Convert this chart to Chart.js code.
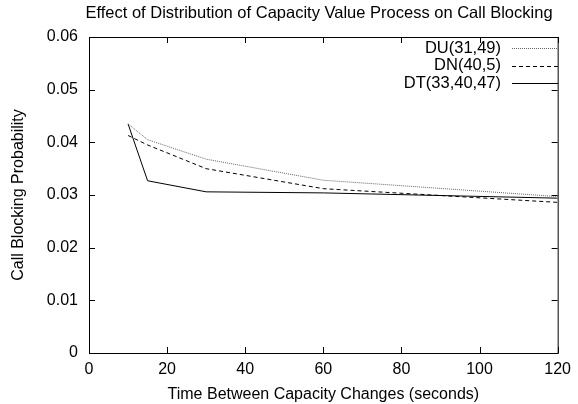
<!DOCTYPE html>
<html>
<head>
<meta charset="utf-8">
<script src="https://cdn.jsdelivr.net/npm/chart.js@4"></script>
<style>
  html, body { margin: 0; padding: 0; background: #fff; }
  #wrap { width: 578px; height: 404px; }
</style>
</head>
<body>
<div id="wrap"><canvas id="chart" width="578" height="404"></canvas></div>
<script>
const times = [10, 15, 30, 60, 120];
const du = [0.0435, 0.0405, 0.0368, 0.0328, 0.0297];
const dn = [0.0413, 0.0395, 0.0350, 0.0312, 0.0286];
const dt = [0.0435, 0.0327, 0.0306, 0.0304, 0.0294];
const xTicks = [0, 20, 40, 60, 80, 100, 120];
const yTicks = [0, 0.01, 0.02, 0.03, 0.04, 0.05, 0.06];

const FONT = 'Liberation Sans, Arial, sans-serif';

// gnuplot-like frame: full box with inward ticks on all four sides
const framePlugin = {
    id: 'frame',
    afterDraw(chart) {
        const { ctx, chartArea: a, scales } = chart;
        ctx.save();
        ctx.strokeStyle = '#000';
        ctx.lineWidth = 1;
        ctx.strokeRect(a.left + 0.5, a.top + 0.5, a.right - a.left, a.bottom - a.top);
        ctx.beginPath();
        const len = 6;
        xTicks.forEach(v => {
            const px = Math.round(scales.x.getPixelForValue(v)) + 0.5;
            ctx.moveTo(px, a.bottom); ctx.lineTo(px, a.bottom - len);
            ctx.moveTo(px, a.top); ctx.lineTo(px, a.top + len);
        });
        yTicks.forEach(v => {
            const py = Math.round(scales.y.getPixelForValue(v)) + 0.5;
            ctx.moveTo(a.left, py); ctx.lineTo(a.left + len, py);
            ctx.moveTo(a.right, py); ctx.lineTo(a.right - len, py);
        });
        ctx.stroke();

        // title
        ctx.fillStyle = '#000';
        ctx.font = '16.5px ' + FONT;
        ctx.textAlign = 'center';
        ctx.textBaseline = 'middle';
        ctx.fillText('Effect of Distribution of Capacity Value Process on Call Blocking', 319, 13);

        // legend, top right
        ctx.font = '16.5px ' + FONT;
        ctx.textAlign = 'right';
        chart.data.datasets.forEach((ds, i) => {
            const y = 48 + i * 17.5;
            ctx.fillText(ds.label, 501, y);
            ctx.beginPath();
            ctx.strokeStyle = ds.borderColor;
            ctx.setLineDash(ds.borderDash || []);
            ctx.moveTo(512, Math.round(y) + 0.5);
            ctx.lineTo(558, Math.round(y) + 0.5);
            ctx.stroke();
        });
        ctx.restore();
    }
};

new Chart(document.getElementById('chart'), {
    type: 'line',
    data: {
        labels: times,
        datasets: [
            {
                label: 'DU(31,49)',
                data: times.map((t, i) => ({ x: t, y: du[i] })),
                borderColor: '#666',
                borderWidth: 1,
                borderDash: [1, 1],
                pointRadius: 0,
                fill: false,
                tension: 0
            },
            {
                label: 'DN(40,5)',
                data: times.map((t, i) => ({ x: t, y: dn[i] })),
                borderColor: '#000',
                borderWidth: 1,
                borderDash: [4, 3],
                pointRadius: 0,
                fill: false,
                tension: 0
            },
            {
                label: 'DT(33,40,47)',
                data: times.map((t, i) => ({ x: t, y: dt[i] })),
                borderColor: '#000',
                borderWidth: 1,
                pointRadius: 0,
                fill: false,
                tension: 0
            }
        ]
    },
    options: {
        responsive: false,
        animation: false,
        layout: { padding: { top: 37, right: 10, left: 0, bottom: 0 } },
        plugins: {
            legend: { display: false },
            title: { display: false },
            tooltip: { enabled: false }
        },
        scales: {
            x: {
                type: 'linear',
                min: 0, max: 120,
                afterBuildTicks: s => { s.ticks = xTicks.map(v => ({ value: v })); },
                afterFit: s => { s.height = 51; },
                grid: { display: false, drawTicks: false },
                border: { display: false },
                ticks: { color: '#000', padding: 7, font: { family: FONT, size: 16 } },
                title: {
                    display: true,
                    text: 'Time Between Capacity Changes (seconds)',
                    color: '#000',
                    font: { family: FONT, size: 16 },
                    padding: { top: 0, bottom: 0 }
                }
            },
            y: {
                min: 0, max: 0.06,
                afterBuildTicks: s => { s.ticks = yTicks.map(v => ({ value: v })); },
                afterFit: s => { s.width = 89; },
                grid: { display: false, drawTicks: false },
                border: { display: false },
                ticks: {
                    color: '#000', padding: 11,
                    font: { family: FONT, size: 16 },
                    callback: v => v === 0 ? '0' : v.toFixed(2)
                },
                title: {
                    display: true,
                    text: 'Call Blocking Probability',
                    color: '#000',
                    font: { family: FONT, size: 16 },
                    padding: { top: 9, bottom: 0 }
                }
            }
        }
    },
    plugins: [framePlugin]
});
</script>
</body>
</html>
